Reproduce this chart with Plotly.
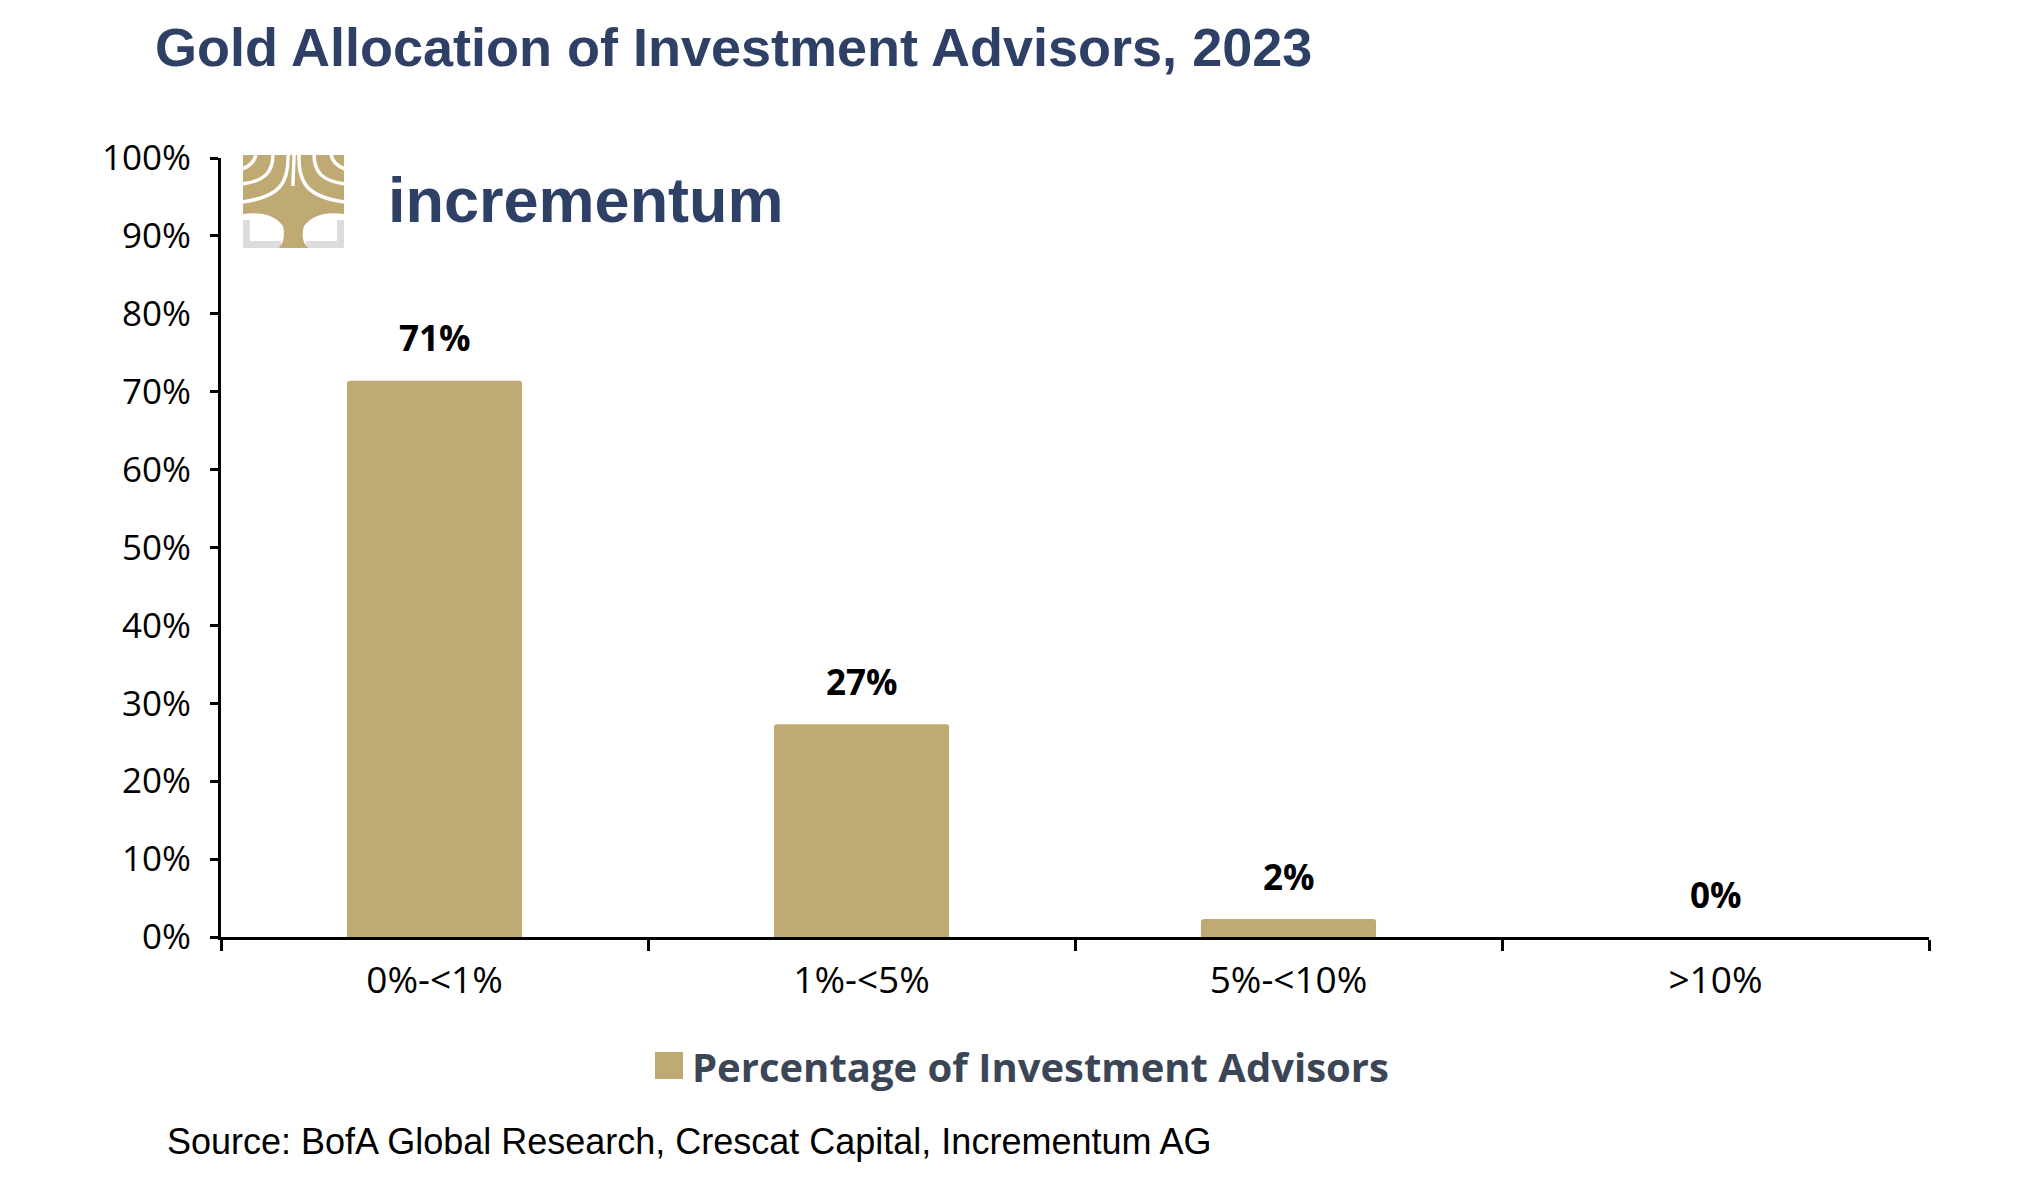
import plotly.graph_objects as go

categories = ["0%-<1%", "1%-<5%", "5%-<10%", ">10%"]
values = [71.4, 27.3, 2.3, 0.0]
series_name = "Percentage of Investment Advisors"
title_text = "Gold Allocation of Investment Advisors, 2023"
source_text = "Source: BofA Global Research, Crescat Capital, Incrementum AG"

# page coordinates (the page body has an 8px margin)
OFF = 8
W, H = 2020 - 2 * OFF, 1204 - 2 * OFF
PX0, PX1, PY0, PY1 = 221, 1929, 158, 937   # plot area on the page
L, T = PX0 - OFF, PY0 - OFF
R, B = W - (PX1 - OFF), H - (PY1 - OFF)
PW, PH = PX1 - PX0, PY1 - PY0

GOLD = "#c0aa73"
NAVY = "#2f4066"
SLATE = "#3a4556"
GRAY = "#dcdcdf"


def px(x, y):
    return (x - PX0) / PW, (PY1 - y) / PH


def pt(x, y):
    a, b = px(x, y)
    return f"{a:.5f},{b:.5f}"


fig = go.Figure()
fig.add_trace(go.Bar(
    x=categories, y=values, name=series_name,
    marker=dict(color=GOLD, line=dict(width=0), cornerradius=3),
    width=0.41, showlegend=False, hoverinfo="skip",
))

annotations = []
for c, v in zip(categories, values):
    annotations.append(dict(
        x=c, y=v, xref="x", yref="y", text=f"{round(v)}%", showarrow=False,
        yanchor="middle", yshift=43,
        font=dict(family="Open Sans", size=35, color="black", weight="bold"),
    ))

# source
sx, sy = px(165, 1141)
annotations.append(dict(x=sx, y=sy, xref="paper", yref="paper", text=source_text,
                        showarrow=False, xanchor="left", yanchor="middle",
                        font=dict(family="Liberation Sans, Arial", size=36, color="black")))
# legend text
lx, ly = px(690, 1066)
annotations.append(dict(x=lx, y=ly, xref="paper", yref="paper", text=series_name,
                        showarrow=False, xanchor="left", yanchor="middle",
                        font=dict(family="Open Sans", size=40, color=SLATE, weight="bold")))
# logo text
tx, ty = px(386, 200)
annotations.append(dict(x=tx, y=ty, xref="paper", yref="paper", text="incrementum",
                        showarrow=False, xanchor="left", yanchor="middle",
                        font=dict(family="Liberation Sans, Arial", size=63, color=NAVY, weight="bold")))

shapes = []
# legend square
x0, y0 = px(655, 1079)
x1, y1 = px(683, 1052)
shapes.append(dict(type="rect", xref="paper", yref="paper", x0=x0, y0=y0, x1=x1, y1=y1,
                   fillcolor=GOLD, line=dict(width=0)))


def rect(xa, ya, xb, yb, color):
    a0, b0 = px(xa, yb)
    a1, b1 = px(xb, ya)
    return dict(type="rect", xref="paper", yref="paper", x0=a0, y0=b0, x1=a1, y1=b1,
                fillcolor=color, line=dict(width=0))


# logo: gray brackets
shapes += [rect(243, 220, 250, 248, GRAY), rect(243, 241, 281, 248, GRAY),
           rect(337, 220, 344, 248, GRAY), rect(306, 241, 344, 248, GRAY)]

# logo: canopy + trunk
tree = (f"M {pt(243,155)} L {pt(344,155)} L {pt(344,214)} "
        f"Q {pt(316,210)} {pt(304,226)} Q {pt(300,240)} {pt(308,248)} "
        f"L {pt(279,248)} Q {pt(286,240)} {pt(283,226)} "
        f"Q {pt(271,210)} {pt(243,214)} Z")
shapes.append(dict(type="path", xref="paper", yref="paper", path=tree,
                   fillcolor=GOLD, line=dict(width=0)))

# logo: white gaps between branches (cubic curves: down from the top, then out to the side)
gaps = [
    ((256, 154), (255, 161), (250, 166), (242, 169)),
    ((273, 154), (273, 172), (265, 181), (242, 184)),
    ((288, 154), (289, 183), (280, 197), (242, 202)),
    ((331, 154), (332, 161), (337, 166), (345, 169)),
    ((314, 154), (314, 172), (322, 181), (345, 184)),
    ((299, 154), (298, 183), (307, 197), (345, 202)),
    ((294, 154), (294, 166), (293, 176), (293, 186)),
]
for (a, b, c, d) in gaps:
    shapes.append(dict(type="path", xref="paper", yref="paper",
                       path=f"M {pt(*a)} C {pt(*b)} {pt(*c)} {pt(*d)}",
                       line=dict(color="white", width=3.5)))

fig.update_layout(
    width=W, height=H,
    margin=dict(l=L, r=R, t=T, b=B),
    paper_bgcolor="white", plot_bgcolor="white",
    title=dict(text=title_text, xref="container", yref="container",
               x=(155 - OFF) / W, xanchor="left", y=1 - (47 - OFF) / H, yanchor="middle",
               font=dict(family="Liberation Sans, Arial", size=54, color=NAVY, weight="bold")),
    xaxis=dict(type="category", showgrid=False, showline=True, linecolor="black", linewidth=3,
               ticks="outside", tickson="boundaries", ticklen=11, tickwidth=3, tickcolor="black",
               tickfont=dict(family="Open Sans", size=37, color="black"),
               ticklabelstandoff=9, zeroline=False, range=[-0.5, 3.5]),
    yaxis=dict(range=[0, 100], dtick=10, ticksuffix="%", showgrid=False, showline=True,
               linecolor="black", linewidth=3, ticks="outside", ticklen=8, tickwidth=3,
               tickcolor="black", zeroline=False,
               tickfont=dict(family="Open Sans", size=35, color="black"),
               ticklabelstandoff=12),
    annotations=annotations,
    shapes=shapes,
    showlegend=False,
    bargap=0.59,
)

fig.write_html("out.html")
